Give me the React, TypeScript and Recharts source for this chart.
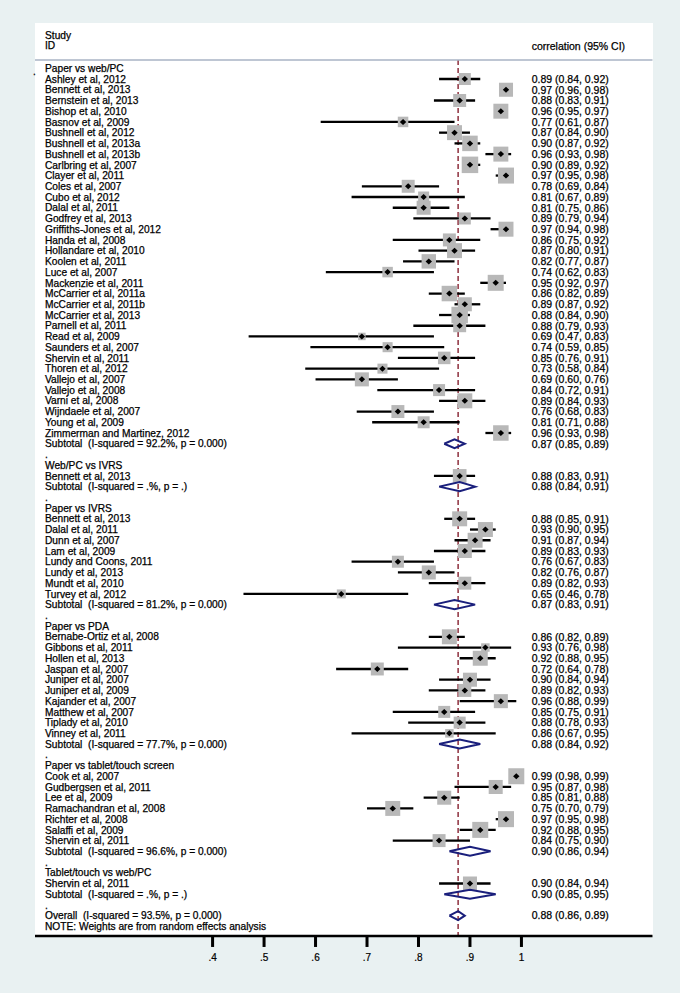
import { ScatterChart, Scatter, XAxis, YAxis, ReferenceLine, ErrorBar } from 'recharts';

// name, correlation, lower, upper, relative weight (box area)
type Study = [string, number, number, number, number];

const paperVsWeb: Study[] = [
  ['Ashley et al, 2012', 0.89, 0.84, 0.92, 9],
  ['Bennett et al, 2013', 0.97, 0.96, 0.98, 12.3],
  ['Bernstein et al, 2013', 0.88, 0.83, 0.91, 10.5],
  ['Bishop et al, 2010', 0.96, 0.95, 0.97, 14],
  ['Basnov et al, 2009', 0.77, 0.61, 0.87, 6.9],
  ['Bushnell et al, 2012', 0.87, 0.84, 0.9, 14],
  ['Bushnell et al, 2013a', 0.9, 0.87, 0.92, 15],
  ['Bushnell et al, 2013b', 0.96, 0.93, 0.98, 14],
  ['Carlbring et al, 2007', 0.9, 0.89, 0.92, 17],
  ['Clayer et al, 2011', 0.97, 0.95, 0.98, 16],
  ['Coles et al, 2007', 0.78, 0.69, 0.84, 10.5],
  ['Cubo et al, 2012', 0.81, 0.67, 0.89, 7.6],
  ['Dalal et al, 2011', 0.81, 0.75, 0.86, 12.3],
  ['Godfrey et al, 2013', 0.89, 0.79, 0.94, 9],
  ['Griffiths-Jones et al, 2012', 0.97, 0.94, 0.98, 14],
  ['Handa et al, 2008', 0.86, 0.75, 0.92, 10.5],
  ['Hollandare et al, 2010', 0.87, 0.8, 0.91, 14],
  ['Koolen et al, 2011', 0.82, 0.77, 0.87, 13],
  ['Luce et al, 2007', 0.74, 0.62, 0.83, 6.9],
  ['Mackenzie et al, 2011', 0.95, 0.92, 0.97, 16],
  ['McCarrier et al, 2011a', 0.86, 0.82, 0.89, 15],
  ['McCarrier et al, 2011b', 0.89, 0.87, 0.92, 12.3],
  ['McCarrier et al, 2013', 0.88, 0.84, 0.9, 17],
  ['Parnell et al, 2011', 0.88, 0.79, 0.93, 10.5],
  ['Read et al, 2009', 0.69, 0.47, 0.83, 3.5],
  ['Saunders et al, 2007', 0.74, 0.59, 0.85, 6.3],
  ['Shervin et al, 2011', 0.85, 0.76, 0.91, 9.8],
  ['Thoren et al, 2012', 0.73, 0.58, 0.84, 6.3],
  ['Vallejo et al, 2007', 0.69, 0.6, 0.76, 12.3],
  ['Vallejo et al, 2008', 0.84, 0.72, 0.91, 9],
  ['Varni et al, 2008', 0.89, 0.84, 0.93, 14],
  ['Wijndaele et al, 2007', 0.76, 0.68, 0.83, 10.5],
  ['Young et al, 2009', 0.81, 0.71, 0.88, 9],
  ['Zimmerman and Martinez, 2012', 0.96, 0.93, 0.98, 15],
];

const webVsIvrs: Study[] = [['Bennett et al, 2013', 0.88, 0.83, 0.91, 11.7]];

const paperVsIvrs: Study[] = [
  ['Bennett et al, 2013', 0.88, 0.85, 0.91, 14],
  ['Dalal et al, 2011', 0.93, 0.9, 0.95, 14],
  ['Dunn et al, 2007', 0.91, 0.87, 0.94, 14],
  ['Lam et al, 2009', 0.89, 0.83, 0.93, 12.3],
  ['Lundy and Coons, 2011', 0.76, 0.67, 0.83, 9],
  ['Lundy et al, 2013', 0.82, 0.76, 0.87, 12.3],
  ['Mundt et al, 2010', 0.89, 0.82, 0.93, 10.5],
  ['Turvey et al, 2012', 0.65, 0.46, 0.78, 5],
];

const paperVsPda: Study[] = [
  ['Bernabe-Ortiz et al, 2008', 0.86, 0.82, 0.89, 14],
  ['Gibbons et al, 2011', 0.93, 0.76, 0.98, 4.5],
  ['Hollen et al, 2013', 0.92, 0.88, 0.95, 14],
  ['Jaspan et al, 2007', 0.72, 0.64, 0.78, 10.5],
  ['Juniper et al, 2007', 0.9, 0.84, 0.94, 12.3],
  ['Juniper et al, 2009', 0.89, 0.82, 0.93, 10.5],
  ['Kajander et al, 2007', 0.96, 0.88, 0.99, 12.3],
  ['Matthew et al, 2007', 0.85, 0.75, 0.91, 9],
  ['Tiplady et al, 2010', 0.88, 0.78, 0.93, 9],
  ['Vinney et al, 2011', 0.86, 0.67, 0.95, 4.5],
];

const paperVsTablet: Study[] = [
  ['Cook et al, 2007', 0.99, 0.98, 0.99, 16],
  ['Gudbergsen et al, 2011', 0.95, 0.87, 0.98, 12.3],
  ['Lee et al, 2009', 0.85, 0.81, 0.88, 12.3],
  ['Ramachandran et al, 2008', 0.75, 0.7, 0.79, 14],
  ['Richter et al, 2008', 0.97, 0.95, 0.98, 16],
  ['Salaffi et al, 2009', 0.92, 0.88, 0.95, 16],
  ['Shervin et al, 2011', 0.84, 0.75, 0.9, 10.5],
];

const tabletVsWeb: Study[] = [['Shervin et al, 2011', 0.9, 0.84, 0.94, 12.3]];

const groupNames = [
  'Paper vs web/PC',
  'Web/PC vs IVRS',
  'Paper vs IVRS',
  'Paper vs PDA',
  'Paper vs tablet/touch screen',
  'Tablet/touch vs web/PC',
];
const groupStudies = [paperVsWeb, webVsIvrs, paperVsIvrs, paperVsPda, paperVsTablet, tabletVsWeb];

const subtotalStats: [number, number, number][] = [
  [0.87, 0.85, 0.89],
  [0.88, 0.84, 0.91],
  [0.87, 0.83, 0.91],
  [0.88, 0.84, 0.92],
  [0.9, 0.86, 0.94],
  [0.9, 0.85, 0.95],
];
const subtotalHetero = [
  'I-squared = 92.2%, p = 0.000',
  'I-squared = .%, p = .',
  'I-squared = 81.2%, p = 0.000',
  'I-squared = 77.7%, p = 0.000',
  'I-squared = 96.6%, p = 0.000',
  'I-squared = .%, p = .',
];
const overallStats: [number, number, number] = [0.877, 0.86, 0.89];
const overallHetero = 'I-squared = 93.5%, p = 0.000';
const xTicks = [0.4, 0.5, 0.6, 0.7, 0.8, 0.9, 1];

const FONT = '"Liberation Sans", Arial, Helvetica, sans-serif';
const NAVY = '#1a1f7c';
const DIAMOND_HALF = 0.42;
const HEADER_ROW = -0.777;
const AXIS_ROW = 80.89;
const X_DOMAIN: [number, number] = [0.055, 1.255];
const Y_DOMAIN: [number, number] = [-4.195, 83.69];

const fmt = (r: number, lo: number, hi: number) =>
  `${r.toFixed(2)} (${lo.toFixed(2)}, ${hi.toFixed(2)})`;

type Label = { left: string; right?: string; lead?: boolean };
const labels = new Map<number, Label>();
const points: { x: number; y: number; w: number; err: number[] }[] = [];
const diamonds: { x: number; y: number }[][] = [];

const diamond = (r: number, lo: number, hi: number, row: number) => [
  { x: lo, y: row },
  { x: r, y: row - DIAMOND_HALF },
  { x: hi, y: row },
  { x: r, y: row + DIAMOND_HALF },
  { x: lo, y: row },
];

labels.set(-3.1, { left: 'Study' });
labels.set(-2.1, { left: 'ID', right: 'correlation (95% CI)' });

let row = 0;
groupStudies.forEach((studies, g) => {
  if (g > 0) {
    labels.set(row, { left: '.' });
    row++;
  }
  labels.set(row, { left: groupNames[g], lead: g === 0 });
  row++;
  studies.forEach(([name, r, lo, hi, w]) => {
    labels.set(row, { left: name, right: fmt(r, lo, hi) });
    points.push({ x: r, y: row, w, err: [r - lo, hi - r] });
    row++;
  });
  const [r, lo, hi] = subtotalStats[g];
  labels.set(row, { left: `Subtotal  (${subtotalHetero[g]})`, right: fmt(r, lo, hi) });
  diamonds.push(diamond(r, lo, hi, row));
  row++;
});
labels.set(row, { left: '.' });
row++;
labels.set(row, { left: `Overall  (${overallHetero})`, right: fmt(...overallStats) });
diamonds.push(diamond(overallStats[0], overallStats[1], overallStats[2], row));
row++;
labels.set(row, { left: 'NOTE: Weights are from random effects analysis' });

const rowTicks = Array.from(labels.keys());

// rules across the panel: header underline and the x axis line
const headerRule = [
  { x: X_DOMAIN[0], y: HEADER_ROW },
  { x: X_DOMAIN[1], y: HEADER_ROW },
];
const axisRule = [
  { x: X_DOMAIN[0], y: AXIS_ROW },
  { x: X_DOMAIN[1], y: AXIS_ROW },
];
const axisTicks = xTicks.map((t) => ({ x: t, y: AXIS_ROW }));

const textStyle = { whiteSpace: 'pre' as const };

const RowTick = (props: any) => {
  const { y, payload } = props;
  const lab = labels.get(payload.value);
  if (!lab) return <g />;
  return (
    <g fontFamily={FONT} fill="#000" stroke="#000" strokeWidth={0.25}>
      {lab.lead && (
        <text x={33} y={y + 3} dy="0.35em" fontSize={10}>.</text>
      )}
      <text x={45} y={y} dy="0.36em" fontSize={10.2} style={textStyle}>
        {lab.left}
      </text>
      {lab.right && (
        <text x={531.7} y={y} dy="0.36em" fontSize={10.5} style={textStyle}>
          {lab.right}
        </text>
      )}
    </g>
  );
};

const XTick = (props: any) => {
  const { x, payload } = props;
  const v: number = payload.value;
  const label = v === 1 ? '1' : v.toFixed(1).replace(/^0/, '');
  return (
    <text x={x} y={957} dy="0.36em" textAnchor="middle" fontSize={10} fontFamily={FONT} fill="#000" stroke="#000" strokeWidth={0.2}>
      {label}
    </text>
  );
};

const BoxShape = (props: any) => {
  const { cx, cy, payload } = props;
  const s = 4 * Math.sqrt(payload.w);
  return <rect x={cx - s / 2} y={cy - s / 2} width={s} height={s} fill="#b8b8b8" />;
};

const MarkerShape = (props: any) => {
  const { cx, cy } = props;
  return (
    <polygon
      points={`${cx - 3.2},${cy} ${cx},${cy - 3} ${cx + 3.2},${cy} ${cx},${cy + 3}`}
      fill="#000"
    />
  );
};

const TickMark = (props: any) => {
  const { cx, cy } = props;
  return <rect x={cx - 1.5} y={cy} width={3} height={11} fill="#000" />;
};

const NoShape = () => <g />;

const App = () => {
  return (
    <div style={{ position: 'absolute', left: 0, top: 0, width: 680, height: 993, background: '#e9f1f2' }}>
      {/* white plot region behind the chart */}
      <div style={{ position: 'absolute', left: 35, top: 23.3, width: 617.7, height: 912.7, background: '#fff' }} />
      <ScatterChart
        width={680}
        height={993}
        margin={{ top: 23.3, right: 27.3, bottom: 7, left: 0 }}
        style={{ position: 'absolute', left: 0, top: 0 }}
      >
        <XAxis
          type="number"
          dataKey="x"
          domain={X_DOMAIN}
          allowDataOverflow
          ticks={xTicks}
          interval={0}
          height={20}
          axisLine={false}
          tickLine={false}
          tick={<XTick />}
        />
        <YAxis
          type="number"
          dataKey="y"
          domain={Y_DOMAIN}
          reversed
          allowDataOverflow
          ticks={rowTicks}
          interval={0}
          width={35}
          axisLine={false}
          tickLine={false}
          tick={<RowTick />}
        />
        <Scatter
          data={headerRule}
          line={{ stroke: '#a9b3c5', strokeWidth: 1.5 }}
          lineType="joint"
          shape={NoShape}
          isAnimationActive={false}
        />
        <ReferenceLine
          segment={[
            { x: overallStats[0], y: HEADER_ROW },
            { x: overallStats[0], y: AXIS_ROW },
          ]}
          stroke="#8e2f3d"
          strokeWidth={1.5}
          strokeDasharray="5 3"
        />
        <Scatter
          data={axisRule}
          line={{ stroke: '#000', strokeWidth: 2.6 }}
          lineType="joint"
          shape={NoShape}
          isAnimationActive={false}
        />
        <Scatter data={axisTicks} shape={TickMark} isAnimationActive={false} />
        <Scatter data={points} shape={BoxShape} isAnimationActive={false} />
        <Scatter data={points} shape={MarkerShape} isAnimationActive={false}>
          <ErrorBar dataKey="err" direction="x" width={0} stroke="#000" strokeWidth={2.3} isAnimationActive={false} />
        </Scatter>
        {diamonds.map((d, i) => (
          <Scatter
            key={i}
            data={d}
            line={{ stroke: NAVY, strokeWidth: 2 }}
            lineType="joint"
            shape={NoShape}
            isAnimationActive={false}
          />
        ))}
      </ScatterChart>
    </div>
  );
};

export default App;
